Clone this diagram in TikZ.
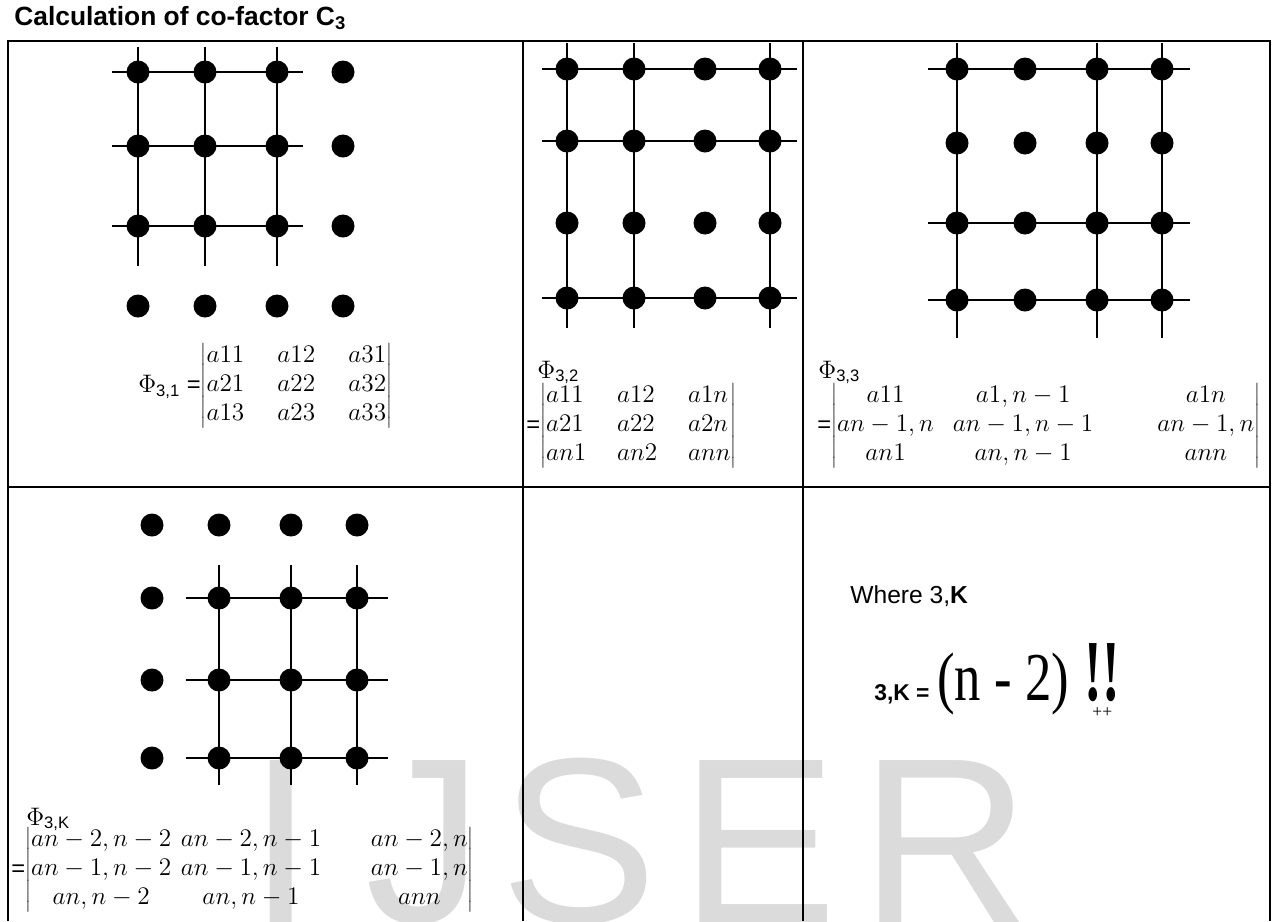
\documentclass[tikz,border=0pt]{standalone}
\usepackage{fontspec}
\usepackage{graphicx}
\setmainfont{Liberation Sans}
\newfontfamily\timesfont{Liberation Serif}
\usetikzlibrary{positioning}

\begin{document}
\begin{tikzpicture}[x=0.02cm,y=-0.02cm,font=\fontsize{14}{16}\selectfont,
  dot/.style={circle,fill=black,inner sep=0pt,minimum size=0.46cm},
  gridline/.style={line width=1.1pt},
  tablerule/.style={line width=1.2pt},
  mat/.style={inner sep=0pt,font=\fontsize{13.5}{16.5}\selectfont},
  wm/.style={inner sep=0pt,text=black!14,font=\fontsize{134}{134}\selectfont}]
\useasboundingbox (0,0) rectangle (1277,921);
\foreach \ch/\px in {I/248,J/365,S/500,E/680,R/860}{
  \node[wm,anchor=base west] (wm\ch) at (\px,922) {\ch};}
\node[anchor=base west,inner sep=0pt,font=\fontsize{15}{18}\selectfont\bfseries] (title) at (14,25) {Calculation of co-factor C\textsubscript{3}};
\draw[tablerule] (8,921) -- (8,41) -- (1270,41) -- (1270,921);
\draw[tablerule] (8,487) -- (1270,487);
\draw[tablerule] (523,41) -- (523,921);
\draw[tablerule] (803,41) -- (803,921);
% lattices: kept rows and columns are crossed by lines
\foreach \y [count=\i] in {72,146,226,306}{
  \foreach \x [count=\j] in {138,205,277,343}{
    \node[dot] (a\i\j) at (\x,\y) {};}}
\foreach \i in {1,2,3}{
  \draw[gridline] ([xshift=-0.52cm]a\i1.center) -- ([xshift=0.52cm]a\i3.center);
  \draw[gridline] ([yshift=0.5cm]a1\i.center) -- ([yshift=-0.8cm]a3\i.center);}
\foreach \y [count=\i] in {69,141,223,298}{
  \foreach \x [count=\j] in {567,634,705,770}{
    \node[dot] (b\i\j) at (\x,\y) {};}}
\foreach \i in {1,2,4}{
  \draw[gridline] ([xshift=-0.5cm]b\i1.center) -- ([xshift=0.54cm]b\i4.center);
  \draw[gridline] ([yshift=0.52cm]b1\i.center) -- ([yshift=-0.6cm]b4\i.center);}
\foreach \y [count=\i] in {69,143,223,300}{
  \foreach \x [count=\j] in {957,1025,1097,1162}{
    \node[dot] (c\i\j) at (\x,\y) {};}}
\foreach \i in {1,3,4}{
  \draw[gridline] ([xshift=-0.58cm]c\i1.center) -- ([xshift=0.56cm]c\i4.center);
  \draw[gridline] ([yshift=0.52cm]c1\i.center) -- ([yshift=-0.76cm]c4\i.center);}
\foreach \y [count=\i] in {525,598,680,758}{
  \foreach \x [count=\j] in {152,219,291,357}{
    \node[dot] (d\i\j) at (\x,\y) {};}}
\foreach \i in {2,3,4}{
  \draw[gridline] ([xshift=-0.66cm]d\i2.center) -- ([xshift=0.62cm]d\i4.center);
  \draw[gridline] ([yshift=0.66cm]d2\i.center) -- ([yshift=-0.54cm]d4\i.center);}
\node[mat,anchor=west] (det31) at (138,386) {$\Phi$\textsubscript{3,1} =$\left|\begin{array}{@{}l@{\hspace{1.4em}}l@{\hspace{1.4em}}l@{}}
  a11 & a12 & a31\\ a21 & a22 & a32\\ a13 & a23 & a33\end{array}\right|$};
\node[mat,anchor=base west] (phi32) at (537,378) {$\Phi$\textsubscript{3,2}};
\node[mat,anchor=west] (det32) at (526,426) {=$\left|\begin{array}{@{}l@{\hspace{1.3em}}l@{\hspace{1.3em}}l@{}}
  a11 & a12 & a1n\\ a21 & a22 & a2n\\ an1 & an2 & ann\end{array}\right|$};
\node[mat,anchor=base west] (phi33) at (818,378) {$\Phi$\textsubscript{3,3}};
\node[mat,anchor=west] (det33) at (817,426) {=$\left|\begin{array}{@{}c@{\hspace{0.8em}}c@{\hspace{2.7em}}c@{}}
  a11 & a1,n-1 & a1n\\ an-1,n & an-1,n-1 & an-1,n\\ an1 & an,n-1 & ann\end{array}\right|$};
\node[mat,anchor=base west] (phi3k) at (26,825) {$\Phi$\textsubscript{3,K}};
\node[mat,anchor=west] (det3k) at (11,870) {=$\left|\begin{array}{@{}c@{\hspace{0.4em}}c@{\hspace{2.1em}}c@{}}
  an-2,n-2 & an-2,n-1 & an-2,n\\ an-1,n-2 & an-1,n-1 & an-1,n\\ an,n-2 & an,n-1 & ann\end{array}\right|$};
\node[anchor=base west,inner sep=0pt] (where) at (850,603) {Where 3,\textbf{K}};
\node[anchor=base west,inner sep=0pt,font=\fontsize{13}{15}\selectfont\bfseries] (lhs) at (874,700) {3,K =};
\node[anchor=base west,inner sep=0pt] (rhs) at ([xshift=0.14cm]lhs.base east) {\scalebox{1}[1.3]{\timesfont\fontsize{30}{30}\selectfont (n - 2)}};
\node[anchor=base west,inner sep=0pt] (bang) at ([xshift=0.3cm]rhs.base east) {\scalebox{1}[1.65]{\timesfont\bfseries\fontsize{30}{30}\selectfont !!}};
\node[below=3pt of bang,inner sep=0pt,font=\timesfont\fontsize{10}{10}\selectfont] (plus) {++};
\end{tikzpicture}
\end{document}
